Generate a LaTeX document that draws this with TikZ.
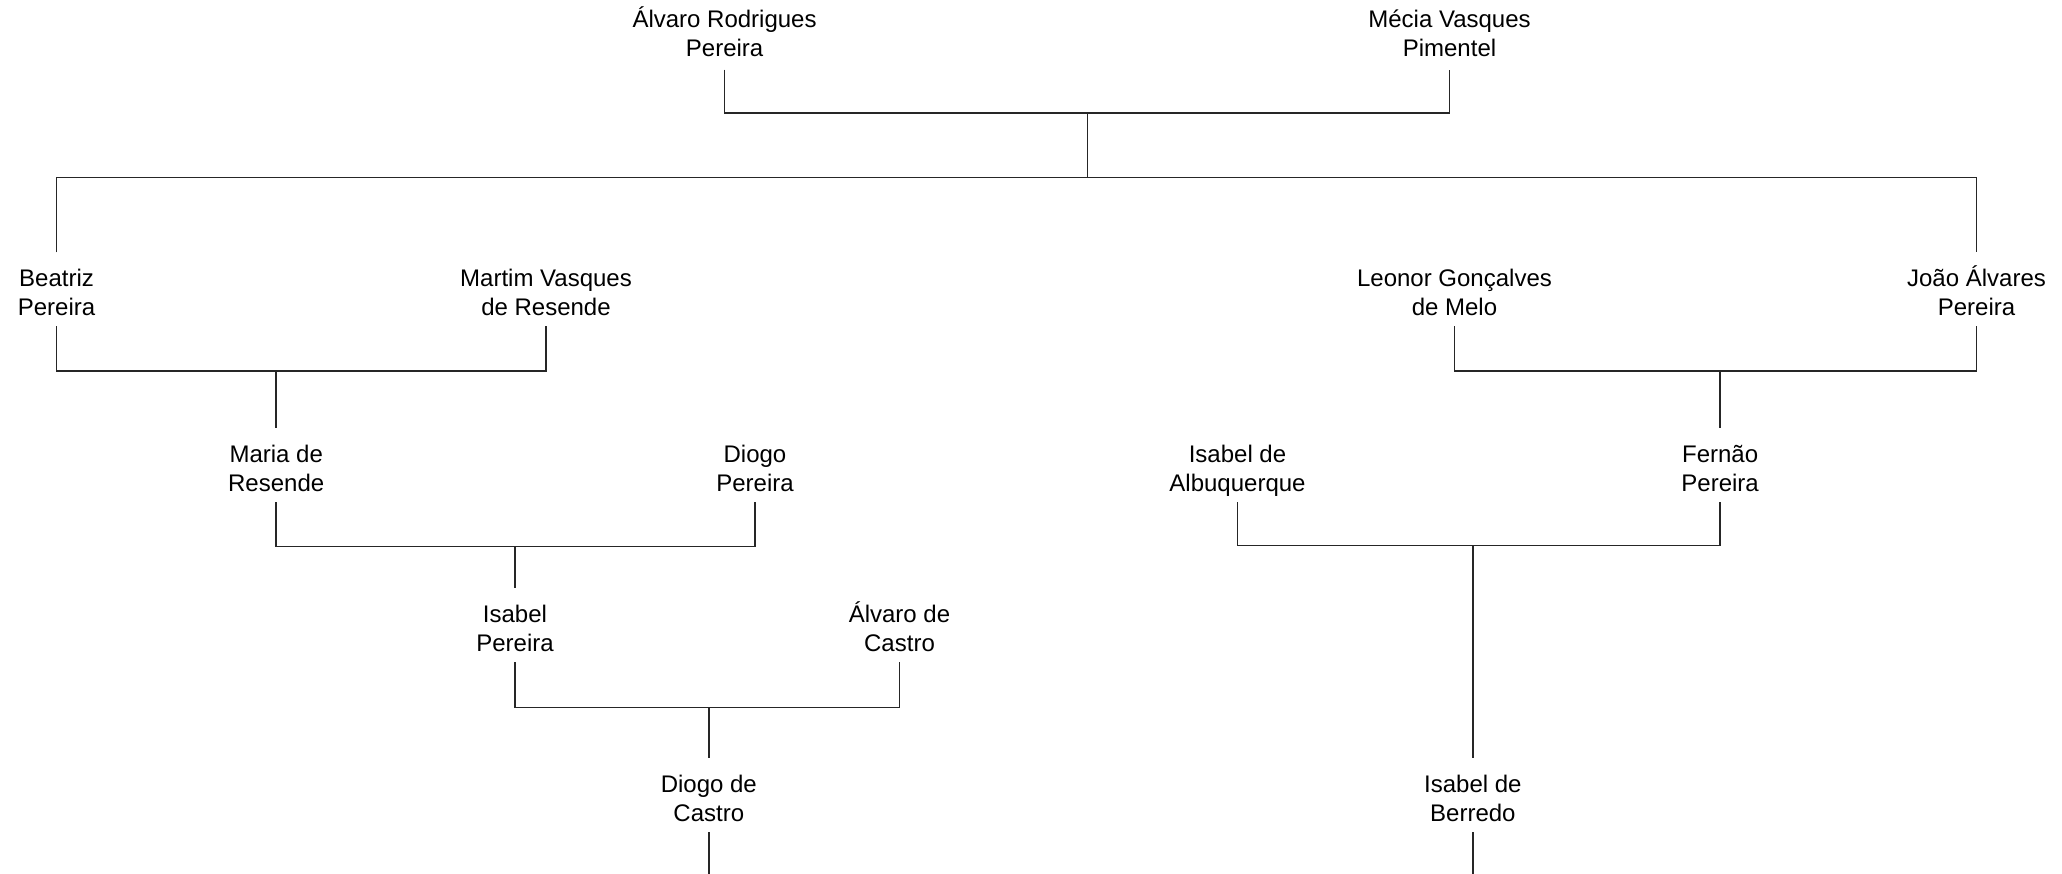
\documentclass[tikz,border=0pt]{standalone}
\usepackage{fontspec}
\setmainfont{Liberation Sans}
\begin{document}
\begin{tikzpicture}[x=1pt,y=-1pt,
  person/.style={align=center,inner sep=0pt,outer sep=0pt,minimum height=74pt,text height=56pt,text depth=4pt,font=\fontsize{24}{29}\selectfont},
  link/.style={draw=black!85,line width=1.5pt}]
\useasboundingbox[fill=white] (0,0) rectangle (2062,874);
% row 1
\node[person,minimum height=79pt] (alvaro) at (724.6,30.2) {Álvaro Rodrigues\\Pereira};
\node[person,minimum height=79pt] (mecia) at (1449.5,30.2) {Mécia Vasques\\Pimentel};
% row 2
\node[person] (beatriz) at (56.5,289.5) {Beatriz\\Pereira};
\node[person] (martim) at (546,289.5) {Martim Vasques\\de Resende};
\node[person] (leonor) at (1454.5,289.5) {Leonor Gonçalves\\de Melo};
\node[person] (joao) at (1976.5,289.5) {João Álvares\\Pereira};
% row 3
\node[person] (maria) at (276.2,465) {Maria de\\Resende};
\node[person] (diogoP) at (755,465) {Diogo\\Pereira};
\node[person] (isabelA) at (1237.5,465) {Isabel de\\Albuquerque};
\node[person] (fernao) at (1720.1,465) {Fernão\\Pereira};
% row 4
\node[person] (isabelP) at (515,625) {Isabel\\Pereira};
\node[person] (alvaroC) at (899.5,625) {Álvaro de\\Castro};
% row 5
\node[person] (diogoC) at (708.8,795) {Diogo de\\Castro};
\node[person] (isabelB) at (1472.9,795) {Isabel de\\Berredo};
% junctions
\coordinate (j1) at (1087.5,113.1);
\coordinate (j1b) at (1087.5,177.5);
\coordinate (j2) at (276.2,370.8);
\coordinate (j3) at (1720.1,370.8);
\coordinate (j4) at (515,546.5);
\coordinate (j6) at (1472.9,545.7);
\coordinate (j5) at (708.8,707.5);
\coordinate (endL) at (708.8,874);
\coordinate (endR) at (1472.9,874);
% connectors
\draw[link] (alvaro.south) |- (j1) -| (mecia.south);
\draw[link] (j1) -- (j1b);
\draw[link] (beatriz.north) |- (j1b) -| (joao.north);
\draw[link] (beatriz.south) |- (j2) -| (martim.south);
\draw[link] (j2) -- (maria.north);
\draw[link] (leonor.south) |- (j3) -| (joao.south);
\draw[link] (j3) -- (fernao.north);
\draw[link] (maria.south) |- (j4) -| (diogoP.south);
\draw[link] (j4) -- (isabelP.north);
\draw[link] (isabelA.south) |- (j6) -| (fernao.south);
\draw[link] (j6) -- (isabelB.north);
\draw[link] (isabelP.south) |- (j5) -| (alvaroC.south);
\draw[link] (j5) -- (diogoC.north);
\draw[link] (diogoC.south) -- (endL);
\draw[link] (isabelB.south) -- (endR);
\end{tikzpicture}
\end{document}
